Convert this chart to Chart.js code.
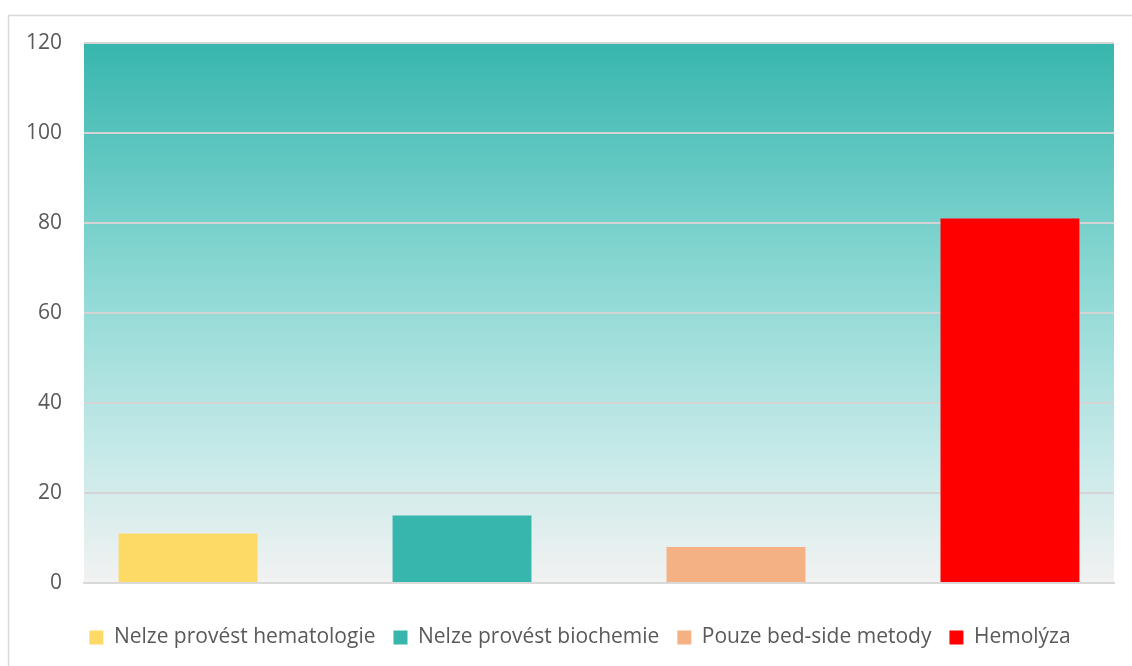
<!DOCTYPE html>
<html>
<head>
<meta charset="utf-8">
<script src="https://cdn.jsdelivr.net/npm/chart.js@4"></script>
<style>
html,body{margin:0;padding:0;background:#fff;}
#wrap{position:absolute;left:0;top:0;width:1132px;height:666px;}
</style>
</head>
<body>
<div id="wrap"><canvas id="c" width="1132" height="666"></canvas></div>
<script>
const seriesNames = ['Nelze provést hematologie', 'Nelze provést biochemie', 'Pouze bed-side metody', 'Hemolýza'];
const seriesValues = [11, 15, 8, 81];
const seriesColors = ['#FDD966', '#37B6AE', '#F4B183', '#FF0000'];
const categories = [''];
const yTicks = [0, 20, 40, 60, 80, 100, 120];

const bgPlugin = {
  id: 'bg',
  afterLayout(chart) {
    const l = chart.legend;
    if (l) { l.left += 13; l.right += 13; }
  },
  beforeDraw(chart) {
    const {ctx, chartArea: a} = chart;
    ctx.save();
    ctx.fillStyle = '#ffffff';
    ctx.fillRect(0, 0, chart.width, chart.height);
    // outer frame
    ctx.strokeStyle = '#d9d9d9';
    ctx.lineWidth = 1.5;
    ctx.beginPath();
    ctx.moveTo(8.5, chart.height + 5);
    ctx.lineTo(8.5, 15.5);
    ctx.lineTo(chart.width + 5, 15.5);
    ctx.stroke();
    const g = ctx.createLinearGradient(0, a.top, 0, a.bottom);
    g.addColorStop(0, '#37B6AE');
    g.addColorStop(0.45, '#8ED9D5');
    g.addColorStop(0.75, '#C4E9E8');
    g.addColorStop(1, '#F2F2F2');
    ctx.fillStyle = g;
    ctx.fillRect(a.left, a.top, a.right - a.left, a.bottom - a.top);
    ctx.restore();
  }
};

const datasets = seriesNames.map((n, i) => ({
  label: n,
  data: [seriesValues[i]],
  backgroundColor: seriesColors[i],
  borderWidth: 0,
  categoryPercentage: 1.064,
  barPercentage: 0.507
}));

new Chart(document.getElementById('c'), {
  type: 'bar',
  data: { labels: categories, datasets },
  plugins: [bgPlugin],
  options: {
    responsive: false,
    animation: false,
    layout: { padding: { left: 20, right: 18, top: 43, bottom: 8 } },
    plugins: {
      legend: {
        position: 'bottom',
        labels: {
          boxWidth: 14, boxHeight: 14, padding: 18,
          color: '#595959',
          font: { family: 'Open Sans', size: 21 }
        }
      },
      tooltip: { enabled: false }
    },
    scales: {
      x: {
        afterFit(s) { s.height = 26; },
        grid: { display: false, drawTicks: false },
        border: { display: true, color: '#d9d9d9', width: 2 },
        ticks: { display: false }
      },
      y: {
        min: 0, max: 120,
        afterBuildTicks(s) { s.ticks = yTicks.map(v => ({ value: v })); },
        afterFit(s) { s.width = 64; },
        grid: { color: '#d4d4d4', lineWidth: 2, drawTicks: false },
        border: { display: false },
        ticks: { color: '#595959', padding: 22, font: { family: 'Open Sans', size: 21 } }
      }
    }
  }
});
</script>
</body>
</html>
